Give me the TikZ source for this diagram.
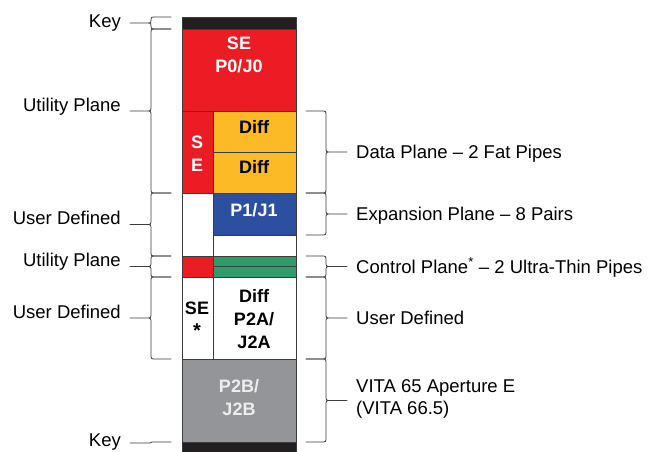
\documentclass[tikz,border=0pt]{standalone}
\usepackage{fontspec}
\setmainfont{Liberation Sans}
\definecolor{sered}{HTML}{EC1C24}
\definecolor{diffyellow}{HTML}{FDBA27}
\definecolor{pjblue}{HTML}{2C4FA0}
\definecolor{ctlgreen}{HTML}{2F9C6C}
\definecolor{vitagray}{HTML}{939598}
\definecolor{keyblack}{HTML}{231F20}
\definecolor{edge}{HTML}{3C3C3C}
\tikzset{
  cell/.style={draw=edge, line width=0.9pt},
  lbl/.style={font=\fontsize{18}{23}\selectfont\bfseries, align=center, inner sep=0pt},
  brc/.style={draw=edge, line width=0.8pt},
  note/.style={inner sep=0pt},
}
\begin{document}
\begin{tikzpicture}[x=1pt, y=-1pt, font=\fontsize{18.5}{23}\selectfont, line join=round, line cap=round]
\useasboundingbox (0,0) rectangle (650,451);
% connector column
\foreach \xa/\ya/\xb/\yb/\col in {182/17/296/29/keyblack, 182/29/296/111/sered,
    182/111/213/193/sered, 213/111/296/152/diffyellow, 213/152/296/193/diffyellow,
    182/193/213/256/white, 213/193/296/235/pjblue, 213/235/296/256/white,
    182/256/213/277/sered, 213/256/296/266/ctlgreen, 213/266/296/277/ctlgreen,
    182/277/213/359/white, 213/277/296/359/white, 182/359/296/442/vitagray,
    182/442/296/462/keyblack}
  \draw[cell, fill=\col] (\xa,\ya) rectangle (\xb,\yb);
\node[lbl, text=white] (p0) at (239,55) {SE\\P0/J0};
\node[lbl, text=white] (se) at (197,154) {S\\E};
\node[lbl] (diffa) at (254,127) {Diff};
\node[lbl] (diffb) at (254,167) {Diff};
\node[lbl, text=white] (p1) at (254,210) {P1/J1};
\node[lbl] (sestar) at (197,320) {SE\\\fontsize{20}{23}\selectfont*};
\node[lbl] (p2a) at (254,319) {Diff\\P2A/\\J2A};
\node[lbl, text=white!93!black] (p2b) at (239,398) {P2B/\\J2B};
% left braces
\foreach \a/\b/\off/\lab [count=\i] in {17/29/4/Key, 29/193/0/Utility Plane,
    193/256/0/User Defined, 256/277/0/Utility Plane, 277/359/0/User Defined}{
  \pgfmathsetmacro\m{(\a+\b)/2}
  \pgfmathsetmacro\r{min(5,(\b-\a)/4)}
  \coordinate (ltip\i) at (130,\m);
  \draw[brc] (171,\a) -- ({151+\r},\a) .. controls (151,\a) .. (151,{\a+\r})
    -- (151,{\m-\r}) .. controls (151,\m) .. ({151-\r},\m) -- (ltip\i)
    -- ({151-\r},\m) .. controls (151,\m) .. (151,{\m+\r})
    -- (151,{\b-\r}) .. controls (151,\b) .. ({151+\r},\b) -- (171,\b);
  \node[note, anchor=base east] (lft\i) at (121,{\m+\off}) {\lab};
}
\coordinate (ltip6) at (130,443);
\draw[brc] (171,442) -- (152,442) -- (150,443) -- (ltip6);
\node[note, anchor=base east] (lft6) at (121,446.5) {Key};
% right braces
\foreach \a/\b/\lab [count=\i] in {111/193/Data Plane \textendash{} 2 Fat Pipes,
    193/235/Expansion Plane \textendash{} 8 Pairs,
    256/277/Control Plane\textsuperscript{*} \textendash{} 2 Ultra-Thin Pipes,
    277/359/User Defined, 359/442/{}}{
  \pgfmathsetmacro\m{(\a+\b)/2}
  \pgfmathsetmacro\r{min(5,(\b-\a)/4)}
  \coordinate (rtip\i) at (347,\m);
  \draw[brc] (306,\a) -- ({326-\r},\a) .. controls (326,\a) .. (326,{\a+\r})
    -- (326,{\m-\r}) .. controls (326,\m) .. ({326+\r},\m) -- (rtip\i)
    -- ({326+\r},\m) .. controls (326,\m) .. (326,{\m+\r})
    -- (326,{\b-\r}) .. controls (326,\b) .. ({326-\r},\b) -- (306,\b);
  \node[note, anchor=base west] (rgt\i) at (356,{\m+6.6}) {\lab};
}
\node[note, anchor=west, align=left, font=\fontsize{18.5}{21.5}\selectfont] (vita) at (356,399) {VITA 65 Aperture E\\(VITA 66.5)};
\end{tikzpicture}
\end{document}
